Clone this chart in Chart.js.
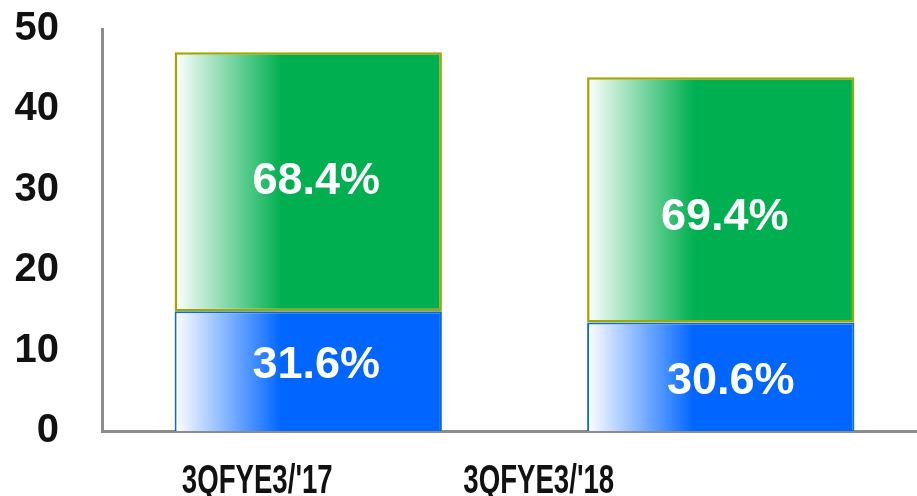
<!DOCTYPE html>
<html>
<head>
<meta charset="utf-8">
<script src="https://cdn.jsdelivr.net/npm/chart.js@4"></script>
<style>
    body { margin: 0; overflow: hidden; background: #fff; }
    #wrap { position: relative; width: 927px; height: 496px; }
</style>
</head>
<body>
<div id="wrap"><canvas id="chart"></canvas></div>
<script>
const categories = ["3QFYE3/'17", "3QFYE3/'18"]
const lowerValues = [14.9, 13.5]
const upperValues = [32.2, 30.5]
const lowerLabels = ["31.6%", "30.6%"]
const upperLabels = ["68.4%", "69.4%"]
const yMax = 50
const yStep = 10

const barPct = 0.648
const blue = "#0066ff"
const green = "#00b050"
const font = "'Liberation Sans', Arial, sans-serif"

// white on the left fading into the full colour
function fade(ctx, color) {
    const chart = ctx.chart
    const xs = chart.scales.x
    if (!xs || !chart.chartArea) return color
    const center = xs.getPixelForValue(ctx.dataIndex)
    const w = (xs.width / categories.length) * barPct
    const left = center - w / 2
    const g = chart.ctx.createLinearGradient(left, 0, left + w, 0)
    g.addColorStop(0, "#ffffff")
    g.addColorStop(0.4, color)
    g.addColorStop(1, color)
    return g
}

const segmentLabels = {
    id: "segmentLabels",
    afterDatasetsDraw(chart) {
        const ctx = chart.ctx
        const texts = [lowerLabels, upperLabels]
        const nudge = [[[8, -6], [10, 5]], [[8, 0], [4, 18]]]
        ctx.save()
        ctx.fillStyle = "#ffffff"
        ctx.font = "bold 45px " + font
        ctx.textAlign = "center"
        ctx.textBaseline = "middle"
        texts.forEach((list, d) => {
            chart.getDatasetMeta(d).data.forEach((bar, i) => {
                const p = bar.getProps(["x", "y", "base"], true)
                const [dx, dy] = nudge[d][i]
                ctx.fillText(list[i], p.x + dx, (p.y + p.base) / 2 + dy)
            })
        })
        ctx.restore()
    }
}

// category names are squeezed horizontally like the original
const categoryLabels = {
    id: "categoryLabels",
    afterDraw(chart) {
        const ctx = chart.ctx
        const xs = chart.scales.x
        const shift = [-51, -182]
        ctx.save()
        ctx.fillStyle = "#111111"
        ctx.font = "bold 40px " + font
        ctx.textAlign = "center"
        ctx.textBaseline = "alphabetic"
        categories.forEach((c, i) => {
            ctx.save()
            ctx.translate(xs.getPixelForValue(i) + shift[i], 493)
            ctx.scale(0.69, 1)
            ctx.fillText(c, 0, 0)
            ctx.restore()
        })
        ctx.restore()
    }
}

new Chart(document.getElementById("chart"), {
    type: "bar",
    data: {
        labels: categories,
        datasets: [
            {
                data: lowerValues,
                backgroundColor: ctx => fade(ctx, blue),
                borderColor: "#0f6ec4",
                borderWidth: 2,
                borderSkipped: "start"
            },
            {
                data: upperValues,
                backgroundColor: ctx => fade(ctx, green),
                borderColor: "#a2a600",
                borderWidth: 2.5,
                borderSkipped: false
            }
        ]
    },
    options: {
        responsive: true,
        maintainAspectRatio: false,
        animation: false,
        layout: { padding: { top: 29, left: 0, right: 0, bottom: 0 } },
        datasets: { bar: { barPercentage: barPct, categoryPercentage: 1 } },
        plugins: { legend: { display: false }, tooltip: { enabled: false } },
        scales: {
            x: {
                stacked: true,
                grid: { display: false, drawTicks: false },
                border: { display: true, color: "#8c8c8c", width: 3 },
                ticks: { display: false },
                afterFit: s => {
                    s.height = 65
                    s.paddingLeft = 0
                    s.paddingRight = 0
                }
            },
            y: {
                stacked: true,
                min: 0,
                max: yMax,
                grid: { display: false, drawTicks: false },
                border: { display: true, color: "#8c8c8c", width: 3 },
                ticks: {
                    stepSize: yStep,
                    padding: 43,
                    color: "#111111",
                    font: { family: font, size: 40, weight: "bold" }
                },
                afterFit: s => {
                    s.width = 102
                    s.paddingTop = 0
                    s.paddingBottom = 0
                }
            }
        }
    },
    plugins: [segmentLabels, categoryLabels]
})
</script>
</body>
</html>
